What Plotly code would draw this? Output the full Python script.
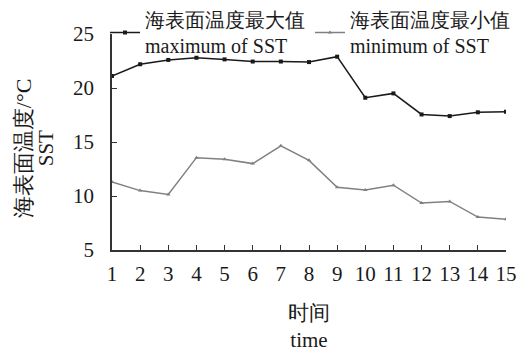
import plotly.graph_objects as go

# time step and sea surface temperature extremes
time_idx = list(range(1, 16))
sst_max = [21.1, 22.2, 22.6, 22.8, 22.65, 22.45, 22.45, 22.4, 22.9, 19.1, 19.5, 17.55, 17.4, 17.75, 17.8]
sst_min = [11.3, 10.5, 10.15, 13.55, 13.4, 13.0, 14.65, 13.3, 10.8, 10.55, 11.0, 9.35, 9.5, 8.05, 7.85]
x_ticks = [str(i) for i in time_idx]
y_ticks = [5, 10, 15, 20, 25]

serif = "Liberation Serif, Times New Roman, serif"

fig = go.Figure()
fig.add_trace(go.Scatter(
    x=time_idx, y=sst_max, mode="lines+markers",
    name="海表面温度最大值<br>maximum of SST", legend="legend",
    line=dict(color="#1a1a1a", width=1.5),
    marker=dict(symbol="square", size=4, color="#1a1a1a"),
))
fig.add_trace(go.Scatter(
    x=time_idx, y=sst_min, mode="lines+markers",
    name="海表面温度最小值<br>minimum of SST", legend="legend2",
    line=dict(color="#808080", width=1.5),
    marker=dict(symbol="triangle-up", size=4, color="#808080"),
))

legend_style = dict(
    orientation="h", xref="container", yref="container",
    y=1.0, xanchor="left", yanchor="top",
    font=dict(size=20, family=serif), bgcolor="rgba(0,0,0,0)",
    itemwidth=30,
)

fig.update_layout(
    width=518, height=352,
    margin=dict(l=112, r=12, t=34, b=102, autoexpand=False),
    paper_bgcolor="white", plot_bgcolor="white",
    font=dict(family=serif, size=21, color="#1a1a1a"),
    showlegend=True,
    legend=dict(x=105 / 518, **legend_style),
    legend2=dict(x=310 / 518, **legend_style),
    xaxis=dict(
        range=[1, 15], tickvals=time_idx, ticktext=x_ticks,
        showline=True, linecolor="#333", linewidth=1.5,
        ticks="inside", ticklen=5, tickcolor="#333",
        showgrid=False, zeroline=False, ticklabelstandoff=4,
        title=dict(text="时间<br>time", font=dict(size=21), standoff=20),
    ),
    yaxis=dict(
        range=[5, 25], tickvals=y_ticks,
        showline=True, linecolor="#333", linewidth=1.5,
        ticks="inside", ticklen=5, tickcolor="#333",
        showgrid=False, zeroline=False, ticklabelstandoff=12,
    ),
    annotations=[
        dict(text="海表面温度/°C", textangle=-90, xref="paper", yref="paper",
             x=-0.226, y=0.471, xanchor="center", yanchor="middle",
             showarrow=False, font=dict(size=22, family=serif)),
        dict(text="SST", textangle=-90, xref="paper", yref="paper",
             x=-0.1675, y=0.471, xanchor="center", yanchor="middle",
             showarrow=False, font=dict(size=21, family=serif)),
    ],
)

fig.write_html("out.html")
